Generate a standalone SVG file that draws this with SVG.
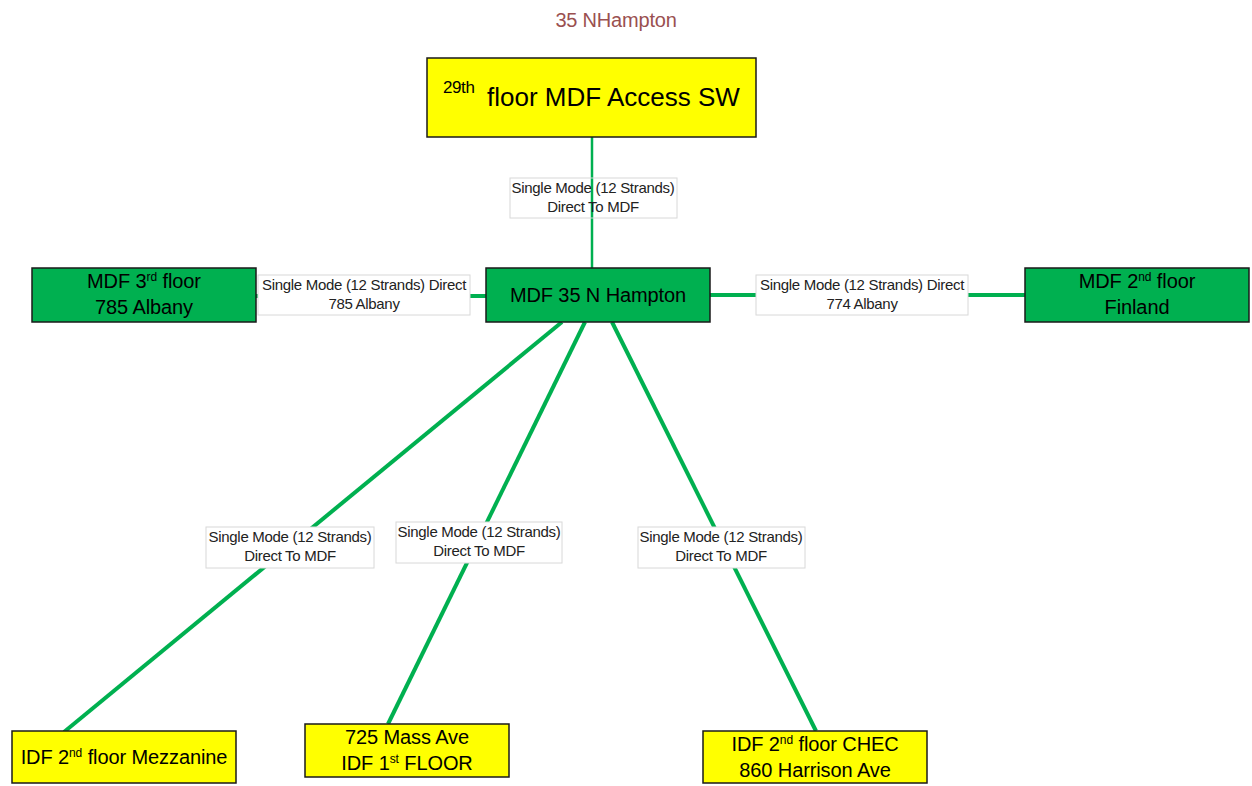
<svg xmlns="http://www.w3.org/2000/svg" width="1252" height="786" viewBox="0 0 1252 786">
<style>
.node{stroke:#1a1a1a;stroke-width:1.5}
.y{fill:#ffff00}
.g{fill:#00b050}
.t{font-family:"Liberation Sans",Arial,sans-serif;font-size:20px;fill:#000;text-anchor:middle;letter-spacing:-0.1px}
.lbl{fill:#fff;stroke:#d8d8d8;stroke-width:1}
.lt{font-family:"Liberation Sans",Arial,sans-serif;font-size:15px;fill:#222;text-anchor:middle;letter-spacing:-0.3px}
.c{stroke:#00b050;stroke-width:4;fill:none}
.sup{font-size:12px}
</style>
<text x="616" y="27" font-family="Liberation Sans, Arial, sans-serif" font-size="20" fill="#9a5050" text-anchor="middle" letter-spacing="-0.2">35 NHampton</text>
<g id="connectors">
<line class="c" x1="592" y1="137" x2="592" y2="268" style="stroke-width:2.5"/>
<line class="c" x1="256" y1="296" x2="486" y2="296"/>
<line class="c" x1="710" y1="295" x2="1025" y2="295"/>
<line class="c" x1="562" y1="322" x2="64" y2="732"/>
<line class="c" x1="585" y1="322" x2="388" y2="724"/>
<line class="c" x1="612" y1="322" x2="816" y2="731"/>
<g id="label-top">
<rect class="lbl" x="510" y="178" width="167" height="40" style="fill:none"/>
<text class="lt" x="593" y="193">Single Mode (12 Strands)</text>
<text class="lt" x="593" y="212">Direct To MDF</text>
</g>
<g id="label-left">
<rect class="lbl" x="258" y="275" width="212" height="40"/>
<text class="lt" x="364" y="290">Single Mode (12 Strands) Direct</text>
<text class="lt" x="364" y="309">785 Albany</text>
</g>
<g id="label-right">
<rect class="lbl" x="756" y="275" width="212" height="40"/>
<text class="lt" x="862" y="290">Single Mode (12 Strands) Direct</text>
<text class="lt" x="862" y="309">774 Albany</text>
</g>
<g id="label-bl">
<rect class="lbl" x="206" y="527" width="168" height="41"/>
<text class="lt" x="290" y="542">Single Mode (12 Strands)</text>
<text class="lt" x="290" y="561">Direct To MDF</text>
</g>
<g id="label-bm">
<rect class="lbl" x="396" y="522" width="166" height="41"/>
<text class="lt" x="479" y="537">Single Mode (12 Strands)</text>
<text class="lt" x="479" y="556">Direct To MDF</text>
</g>
<g id="label-br">
<rect class="lbl" x="638" y="527" width="167" height="41"/>
<text class="lt" x="721" y="542">Single Mode (12 Strands)</text>
<text class="lt" x="721" y="561">Direct To MDF</text>
</g>
</g>
<g id="node-29th">
<rect class="node y" x="427" y="58" width="329" height="79"/>
<text x="443" y="93" font-family="Liberation Sans, Arial, sans-serif" font-size="17" letter-spacing="-0.4">29th</text>
<text x="487" y="106" font-family="Liberation Sans, Arial, sans-serif" font-size="26" letter-spacing="0">floor MDF Access SW</text>
</g>
<g id="node-center">
<rect class="node g" x="486" y="268" width="224" height="54"/>
<text class="t" x="598" y="302">MDF 35 N Hampton</text>
</g>
<g id="node-left">
<rect class="node g" x="32" y="268" width="224" height="54"/>
<text class="t" x="144" y="288">MDF 3<tspan class="sup" dy="-7">rd</tspan><tspan dy="7"> floor</tspan></text>
<text class="t" x="144" y="314">785 Albany</text>
</g>
<g id="node-right">
<rect class="node g" x="1025" y="268" width="224" height="54"/>
<text class="t" x="1137" y="288">MDF 2<tspan class="sup" dy="-7">nd</tspan><tspan dy="7"> floor</tspan></text>
<text class="t" x="1137" y="314">Finland</text>
</g>
<g id="node-mezz">
<rect class="node y" x="12" y="731" width="224" height="52"/>
<text class="t" x="124" y="764">IDF 2<tspan class="sup" dy="-7">nd</tspan><tspan dy="7"> floor Mezzanine</tspan></text>
</g>
<g id="node-mass">
<rect class="node y" x="305" y="724" width="204" height="53"/>
<text class="t" x="407" y="744">725 Mass Ave</text>
<text class="t" x="407" y="770">IDF 1<tspan class="sup" dy="-7">st</tspan><tspan dy="7"> FLOOR</tspan></text>
</g>
<g id="node-chec">
<rect class="node y" x="703" y="731" width="224" height="52"/>
<text class="t" x="815" y="751">IDF 2<tspan class="sup" dy="-7">nd</tspan><tspan dy="7"> floor CHEC</tspan></text>
<text class="t" x="815" y="777">860 Harrison Ave</text>
</g>
</svg>
